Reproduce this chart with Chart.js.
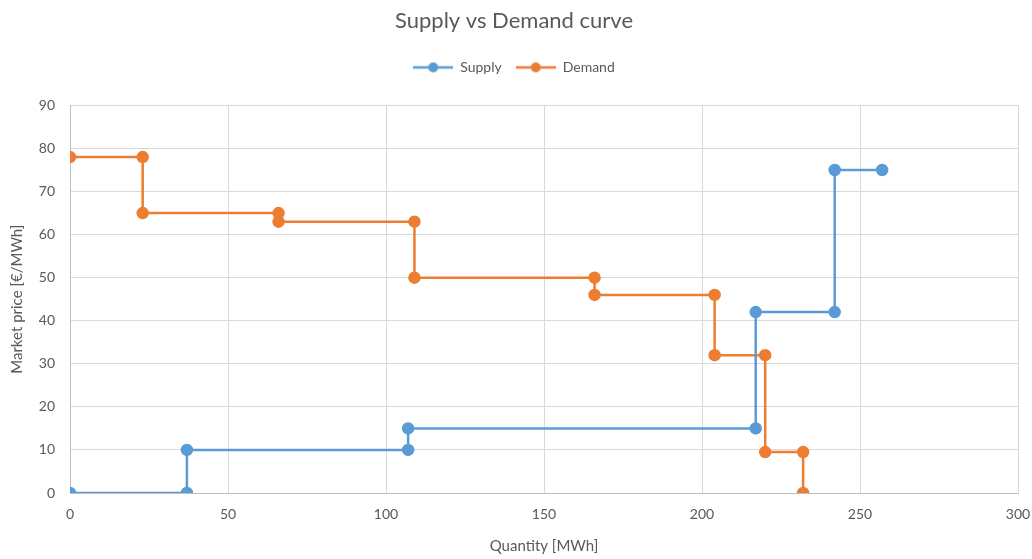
<!DOCTYPE html>
<html>
<head>
<meta charset="utf-8">
<script src="https://cdn.jsdelivr.net/npm/chart.js@4/dist/chart.umd.min.js"></script>
<style>
html,body{margin:0;padding:0;background:#fff;}
#wrap{width:1032px;height:559px;position:relative;}
</style>
</head>
<body>
<div id="wrap"><canvas id="c" width="1032" height="559"></canvas></div>
<script>
const supplyX = [0, 37, 37, 107, 107, 217, 217, 242, 242, 257];
const supplyY = [0, 0, 10, 10, 15, 15, 42, 42, 75, 75];
const demandX = [0, 23, 23, 66, 66, 109, 109, 166, 166, 204, 204, 220, 220, 232, 232];
const demandY = [78, 78, 65, 65, 63, 63, 50, 50, 46, 46, 32, 32, 9.5, 9.5, 0];
const seriesNames = ['Supply', 'Demand'];
const titleText = 'Supply vs Demand curve';
const xTitle = 'Quantity [MWh]';
const yTitle = 'Market price [€/MWh]';

const FONT = 'Lato, "Open Sans", sans-serif';
const BLUE = '#5b9bd5', ORANGE = '#ed7d31';

function legendIcon(color){
  const cv = document.createElement('canvas');
  cv.width = 40; cv.height = 14;
  const g = cv.getContext('2d');
  g.strokeStyle = color; g.lineWidth = 2.5;
  g.beginPath(); g.moveTo(0,7); g.lineTo(40,7); g.stroke();
  g.fillStyle = color;
  g.beginPath(); g.arc(20,7,5,0,Math.PI*2); g.fill();
  return cv;
}

function pts(xs, ys){ return xs.map((x,i)=>({x:x, y:ys[i]})); }

const legendExtra = {
  id: 'legendExtra',
  beforeInit(chart){
    const lg = chart.legend;
    if (!lg) return;
    const orig = lg.fit.bind(lg);
    lg.fit = function(){ orig(); this.height += 21; };
  }
};

new Chart(document.getElementById('c'), {
  type: 'scatter',
  data: {
    datasets: [
      {label: seriesNames[0], data: pts(supplyX, supplyY), showLine: true,
       borderColor: BLUE, backgroundColor: BLUE, borderWidth: 2.5,
       pointRadius: 5, pointHoverRadius: 5, pointStyle: 'circle'},
      {label: seriesNames[1], data: pts(demandX, demandY), showLine: true,
       borderColor: ORANGE, backgroundColor: ORANGE, borderWidth: 2.5,
       pointRadius: 5, pointHoverRadius: 5, pointStyle: 'circle'}
    ]
  },
  plugins: [legendExtra],
  options: {
    responsive: false,
    animation: false,
    layout: {padding: {left: 0, right: 4, top: 6, bottom: 0}},
    plugins: {
      tooltip: {enabled: false},
      title: {display: true, text: titleText, color: '#595959',
        font: {family: FONT, size: 22, weight: 'normal'}, padding: {top: 2, bottom: 12}},
      legend: {display: true, position: 'top',
        labels: {color: '#595959', font: {family: FONT, size: 14},
          usePointStyle: true, pointStyleWidth: 40, boxHeight: 14, padding: 14,
          generateLabels: function(chart){
            return chart.data.datasets.map((d,i)=>({
              text: d.label, pointStyle: legendIcon(d.borderColor),
              fillStyle: d.borderColor, strokeStyle: d.borderColor,
              fontColor: '#595959', lineWidth: 0, hidden: false, datasetIndex: i
            }));
          }}}
    },
    scales: {
      x: {type: 'linear', min: 0, max: 300,
        ticks: {stepSize: 50, color: '#595959', font: {family: FONT, size: 14}, padding: 13},
        grid: {color: '#d9d9d9', drawTicks: false},
        border: {color: '#bfbfbf'},
        title: {display: true, text: xTitle, color: '#595959', font: {family: FONT, size: 15}, padding: {top: 10}},
        afterFit: function(s){ s.height = 66; s.paddingRight = 14; s.paddingLeft = 0; }
      },
      y: {type: 'linear', min: 0, max: 90,
        ticks: {stepSize: 10, color: '#595959', font: {family: FONT, size: 14}, padding: 15},
        grid: {color: '#d9d9d9', drawTicks: false},
        border: {color: '#bfbfbf'},
        title: {display: true, text: yTitle, color: '#595959', font: {family: FONT, size: 15}, padding: {top: 8, bottom: 6}},
        afterFit: function(s){ s.width = 70; }
      }
    }
  }
});
</script>
</body>
</html>
